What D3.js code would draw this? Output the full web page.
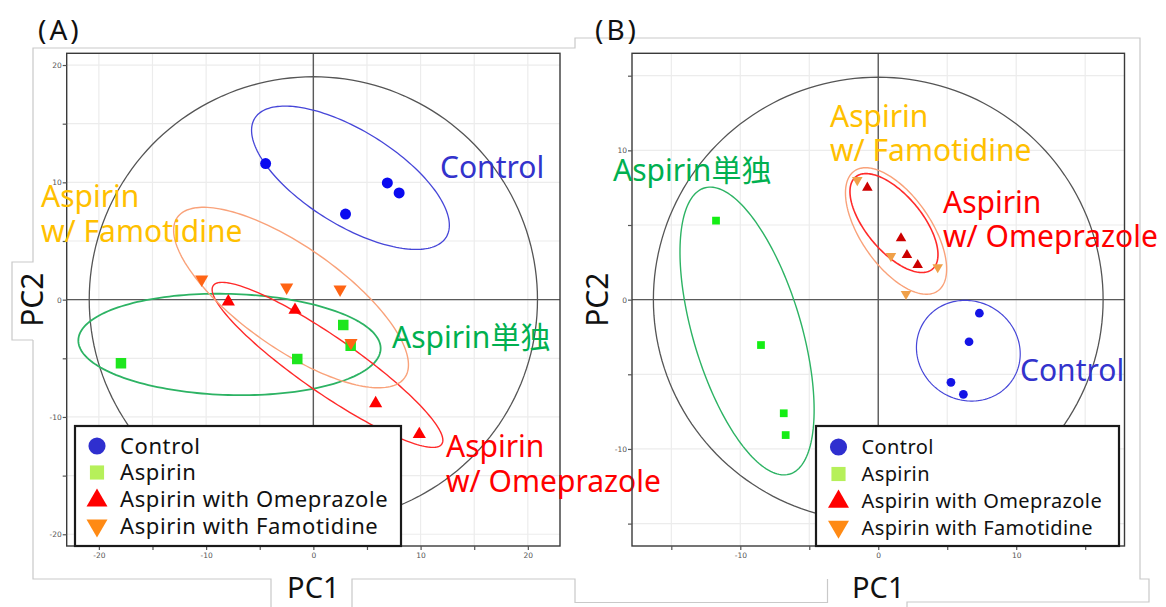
<!DOCTYPE html>
<html>
<head>
<meta charset="utf-8">
<script src="https://cdn.jsdelivr.net/npm/d3@7"></script>
<style>
  html, body { margin: 0; padding: 0; background: #fff; }
  svg { display: block; }
  text { font-family: "Noto Sans", "Noto Sans CJK JP", sans-serif; }
</style>
</head>
<body>
<svg id="fig" width="1166" height="607"></svg>
<script>
// ---------------- data ----------------
const groups = ["Control", "Aspirin", "Aspirin with Omeprazole", "Aspirin with Famotidine"];

// (A) PCA scores, [PC1, PC2]
const scoresA_control    = [[-4.45, 11.6], [6.9, 9.95], [8.0, 9.1], [3.0, 7.3]];
const scoresA_aspirin    = [[-17.94, -5.43], [-1.5, -5.06], [2.79, -2.16], [3.48, -3.93]];
const scoresA_omeprazole = [[-7.93, -0.17], [-1.71, -0.88], [5.81, -8.84], [9.88, -11.48]];
const scoresA_famotidine = [[-10.41, 1.73], [-2.49, 1.05], [2.49, 0.88], [3.51, -3.67]];

// (B) PCA scores, [PC1, PC2]
const scoresB_control    = [[7.33, -0.91], [6.58, -2.82], [5.27, -5.54], [6.17, -6.34]];
const scoresB_aspirin    = [[-11.76, 5.29], [-8.5, -3.04], [-6.85, -7.61], [-6.71, -9.07]];
const scoresB_omeprazole = [[-0.79, 7.5], [1.65, 4.11], [2.08, 2.99], [2.86, 2.32]];
const scoresB_famotidine = [[-1.52, 8.01], [0.92, 2.92], [4.31, 2.17], [2.01, 0.38]];

// group confidence ellipses: [centre PC1, centre PC2, semi-axis a, semi-axis b, rotation deg]
const ellipsesA_control    = [3.46, 10.39, 10.27, 4.11, -28.7];
const ellipsesA_aspirin    = [-7.82, -3.82, 14.1, 4.31, -1.5];
const ellipsesA_omeprazole = [1.32, -5.56, 12.62, 2.44, -32.2];
const ellipsesA_famotidine = [-2.08, 0.18, 12.62, 4.45, -32.1];

const ellipsesB_control    = [6.53, -3.42, 3.79, 3.34, -15];
const ellipsesB_aspirin    = [-9.51, -2.1, 10.07, 3.89, -71.7];
const ellipsesB_omeprazole = [1.14, 5.13, 4.16, 1.96, -46.7];
const ellipsesB_famotidine = [1.29, 4.6, 5.03, 2.47, -51.8];

// Hotelling T2 ellipse radii [PC1, PC2]
const hotellingA = [20.9, 19.0];
const hotellingB = [16.3, 14.9];

// axis ticks
const majorTicksA = [-20, -10, 0, 10, 20];
const minorTicksA = [-15, -5, 5, 15];
const majorTicksB = [-10, 0, 10];
const minorTicksB = [-15, -5, 5, 15];
const gridStepValues = [-20, -15, -10, -5, 0, 5, 10, 15, 20];

// group annotations
const annotationsA = [["Control"], ["Aspirin単独"], ["Aspirin", "w/ Omeprazole"], ["Aspirin", "w/ Famotidine"]];
const annotationsB = [["Control"], ["Aspirin単独"], ["Aspirin", "w/ Omeprazole"], ["Aspirin", "w/ Famotidine"]];

// ---------------- styling ----------------
const svg = d3.select("#fig");

const labelColors   = ["#3333cc", "#00b050", "#ff0000", "#ffc000"];
const ellipseColors = ["#4646d8", "#2db364", "#ff2a2a", "#f9a27a"];
const legendColors  = ["#2f2fcf", "#b6f05a", "#ff0000", "#ff8a14"];

// background outline of the figure
svg.append("path")
  .attr("d", "M33,340 V579 H271 V607 M352,607 V579 H575 V602.5 H827.5 V579 " +
             "M907,607 V602 H1149 V579 H1140 V38 H575 V48 H33 V262 H12 V340 H33")
  .attr("fill", "none")
  .attr("stroke", "#c9c9c9")
  .attr("stroke-width", 1.2);

function drawPanel(cfg) {
  const x = d3.scaleLinear().domain(cfg.xDomain).range([cfg.left, cfg.right]);
  const y = d3.scaleLinear().domain(cfg.yDomain).range([cfg.bottom, cfg.top]);
  const g = svg.append("g");

  // clip for plot interior
  const clipId = "clip" + cfg.name;
  svg.append("clipPath").attr("id", clipId)
    .append("rect")
    .attr("x", cfg.left).attr("y", cfg.top)
    .attr("width", cfg.right - cfg.left).attr("height", cfg.bottom - cfg.top);

  const inner = g.append("g").attr("clip-path", `url(#${clipId})`);

  // grid every 5 units
  const gx = gridStepValues.filter(v => v > cfg.xDomain[0] && v < cfg.xDomain[1]);
  const gy = gridStepValues.filter(v => v > cfg.yDomain[0] && v < cfg.yDomain[1]);
  inner.selectAll(".gx").data(gx).join("line")
    .attr("x1", d => x(d)).attr("x2", d => x(d))
    .attr("y1", cfg.top).attr("y2", cfg.bottom)
    .attr("stroke", "#ececec").attr("stroke-width", 1.2);
  inner.selectAll(".gy").data(gy).join("line")
    .attr("y1", d => y(d)).attr("y2", d => y(d))
    .attr("x1", cfg.left).attr("x2", cfg.right)
    .attr("stroke", "#ececec").attr("stroke-width", 1.2);

  // zero lines
  inner.append("line")
    .attr("x1", x(0)).attr("x2", x(0)).attr("y1", cfg.top).attr("y2", cfg.bottom)
    .attr("stroke", "#5a5a5a").attr("stroke-width", 1.4);
  inner.append("line")
    .attr("y1", y(0)).attr("y2", y(0)).attr("x1", cfg.left).attr("x2", cfg.right)
    .attr("stroke", "#5a5a5a").attr("stroke-width", 1.4);

  // ellipse path from centre, semi-axes and rotation in data space
  const ellipsePath = (cx, cy, a, b, rotDeg) => {
    const phi = rotDeg * Math.PI / 180;
    const pts = d3.range(0, 360, 2).map(deg => {
      const t = deg * Math.PI / 180;
      const ex = cx + a * Math.cos(t) * Math.cos(phi) - b * Math.sin(t) * Math.sin(phi);
      const ey = cy + a * Math.cos(t) * Math.sin(phi) + b * Math.sin(t) * Math.cos(phi);
      return [x(ex), y(ey)];
    });
    return d3.line().curve(d3.curveLinearClosed)(pts);
  };

  // Hotelling T2 ellipse
  inner.append("path")
    .attr("d", ellipsePath(0, 0, cfg.hotelling[0], cfg.hotelling[1], 0))
    .attr("fill", "none").attr("stroke", "#555").attr("stroke-width", 1.3);

  // group ellipses
  cfg.ellipses.forEach((e, i) => {
    inner.append("path")
      .attr("d", ellipsePath(...e))
      .attr("fill", "none")
      .attr("stroke", ellipseColors[i])
      .attr("stroke-width", cfg.ellipseWidth[i]);
  });

  // score markers
  const shapes = [d3.symbolCircle, d3.symbolSquare, d3.symbolTriangle, d3.symbolTriangle];
  cfg.scores.forEach((pts, i) => {
    inner.selectAll(null).data(pts).join("path")
      .attr("d", d3.symbol().type(shapes[i]).size(cfg.markerSizes[i]))
      .attr("transform", d => `translate(${x(d[0])},${y(d[1])})` + (i === 3 ? " rotate(180)" : ""))
      .attr("fill", cfg.markerColors[i]);
  });

  // frame
  g.append("rect")
    .attr("x", cfg.left).attr("y", cfg.top)
    .attr("width", cfg.right - cfg.left).attr("height", cfg.bottom - cfg.top)
    .attr("fill", "none").attr("stroke", "#3a3a3a").attr("stroke-width", 1.4);

  // axes
  const styleAxis = sel => {
    sel.select(".domain").remove();
    sel.selectAll(".tick line").attr("stroke", "#555").attr("stroke-width", 1.2);
    sel.selectAll(".tick text").attr("fill", "#555").style("font-size", "7.5px")
      .style("font-family", "'DejaVu Sans', sans-serif");
  };
  g.append("g").attr("transform", `translate(${cfg.left},0)`)
    .call(d3.axisLeft(y).tickValues(cfg.majorY).tickSize(4).tickPadding(1).tickFormat(d => String(d)))
    .call(styleAxis);
  g.append("g").attr("transform", `translate(${cfg.left},0)`)
    .call(d3.axisLeft(y).tickValues(cfg.minorY).tickSize(4).tickFormat(""))
    .call(styleAxis);
  g.append("g").attr("transform", `translate(0,${cfg.bottom})`)
    .call(d3.axisBottom(x).tickValues(cfg.majorX).tickSize(4).tickPadding(3).tickFormat(d => String(d)))
    .call(styleAxis);
  g.append("g").attr("transform", `translate(0,${cfg.bottom})`)
    .call(d3.axisBottom(x).tickValues(cfg.minorX).tickSize(4).tickFormat(""))
    .call(styleAxis);

  // axis titles
  g.append("text")
    .attr("x", (x(0))).attr("y", 598)
    .attr("text-anchor", "middle")
    .style("font-size", "29px").attr("fill", "#111")
    .text("PC1");
  g.append("text")
    .attr("transform", `translate(${cfg.left - 24},${y(0)}) rotate(-90)`)
    .attr("text-anchor", "middle")
    .style("font-size", "30px").attr("fill", "#111")
    .text("PC2");

  // panel tag
  g.append("text")
    .attr("x", cfg.tagX).attr("y", 40)
    .style("font-size", "28px").style("letter-spacing", "3px").attr("fill", "#111")
    .text(cfg.tag);

  // group annotations
  cfg.annotations.forEach((lines, i) => {
    const pos = cfg.annotationPos[i];
    const t = g.append("text")
      .attr("x", pos[0]).attr("y", pos[1])
      .style("font-size", cfg.annotationSize + "px")
      .attr("fill", labelColors[i]);
    lines.forEach((line, j) => {
      t.append("tspan").attr("x", pos[0]).attr("dy", j === 0 ? 0 : cfg.annotationLead).text(line);
    });
  });

  // legend
  const L = cfg.legend;
  const lg = g.append("g");
  lg.append("rect")
    .attr("x", L.x).attr("y", L.y).attr("width", L.w).attr("height", L.h)
    .attr("fill", "#fff").attr("stroke", "#1a1a1a").attr("stroke-width", 2.2);
  const legendShapes = [d3.symbolCircle, d3.symbolSquare, d3.symbolTriangle, d3.symbolTriangle];
  const legendSizes = [230, 200, 190, 190];
  groups.forEach((name, i) => {
    const ry = L.rowY[i];
    lg.append("path")
      .attr("d", d3.symbol().type(legendShapes[i]).size(legendSizes[i]))
      .attr("transform", `translate(${L.markerX},${ry + (i === 2 ? 1 : i === 3 ? -1 : 0)})` + (i === 3 ? " rotate(180)" : ""))
      .attr("fill", legendColors[i]);
    lg.append("text")
      .attr("x", L.textX).attr("y", ry)
      .attr("dy", "0.35em")
      .style("font-size", L.font + "px")
      .style("letter-spacing", L.spacing + "px")
      .attr("fill", "#111")
      .text(name);
  });
}

drawPanel({
  name: "A", tag: "(A)", tagX: 38,
  left: 66.7, right: 560, top: 53.3, bottom: 546,
  xDomain: [-23, 23], yDomain: [-21, 21],
  majorX: majorTicksA, minorX: minorTicksA, majorY: majorTicksA, minorY: minorTicksA,
  hotelling: hotellingA,
  ellipses: [ellipsesA_control, ellipsesA_aspirin, ellipsesA_omeprazole, ellipsesA_famotidine],
  ellipseWidth: [1.3, 1.8, 1.4, 1.4],
  scores: [scoresA_control, scoresA_aspirin, scoresA_omeprazole, scoresA_famotidine],
  markerSizes: [95, 110, 75, 75],
  markerColors: ["#0a0af0", "#1ee61e", "#ff0000", "#ff6414"],
  annotations: annotationsA,
  annotationPos: [[440, 178], [392, 348], [446, 457], [41, 207]],
  annotationSize: 30, annotationLead: 35,
  legend: { x: 75, y: 426, w: 326, h: 120, markerX: 97, textX: 120,
            rowY: [446, 472.5, 499.5, 526.5], font: 22, spacing: 0.6 }
});

drawPanel({
  name: "B", tag: "(B)", tagX: 595,
  left: 632, right: 1124.5, top: 53.3, bottom: 546,
  xDomain: [-17.85, 17.85], yDomain: [-16.5, 16.5],
  majorX: majorTicksB, minorX: minorTicksB, majorY: majorTicksB, minorY: minorTicksB,
  hotelling: hotellingB,
  ellipses: [ellipsesB_control, ellipsesB_aspirin, ellipsesB_omeprazole, ellipsesB_famotidine],
  ellipseWidth: [1.2, 1.4, 1.6, 1.4],
  scores: [scoresB_control, scoresB_aspirin, scoresB_omeprazole, scoresB_famotidine],
  markerSizes: [60, 60, 48, 48],
  markerColors: ["#1414e6", "#14ee14", "#cc0000", "#f0a048"],
  annotations: annotationsB,
  annotationPos: [[1020, 381], [613, 181], [943, 213], [830, 127]],
  annotationSize: 30, annotationLead: 34,
  legend: { x: 816, y: 426, w: 303, h: 120, markerX: 838.5, textX: 861.5,
            rowY: [447, 474, 500.7, 527.7], font: 20, spacing: 0.4 }
});
</script>
</body>
</html>
